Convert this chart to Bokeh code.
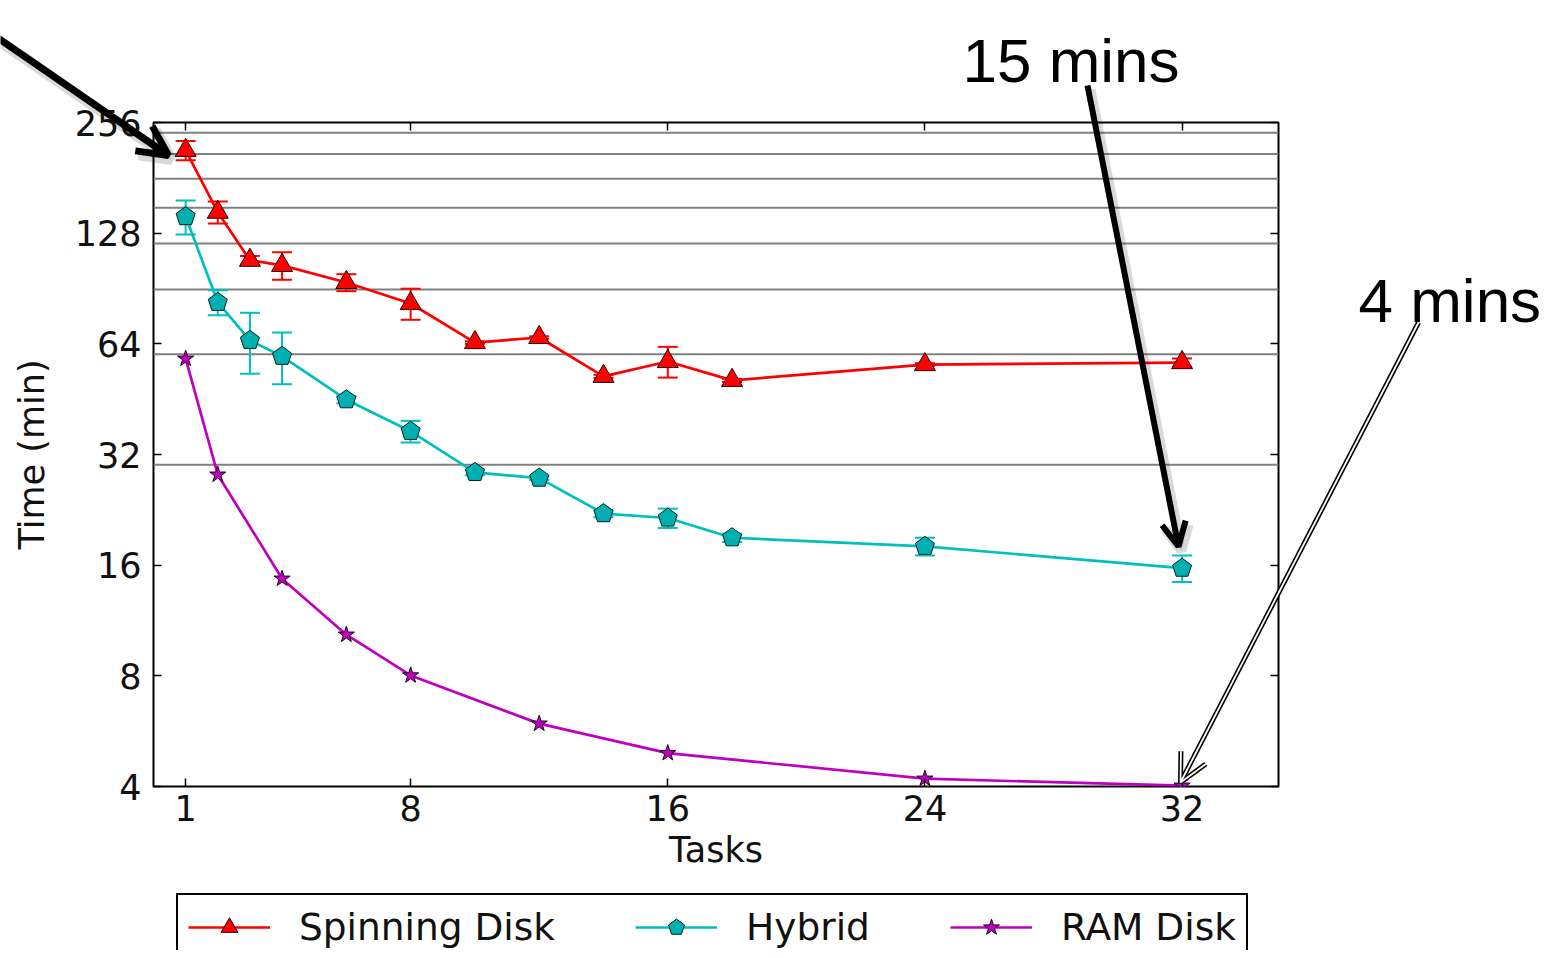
import math
from bokeh.plotting import figure
from bokeh.models import (Range1d, LinearAxis, LogAxis, FixedTicker, PrintfTickFormatter,
                          ColumnDataSource, Whisker, TeeHead, Span, Arrow, OpenHead, Label,
                          Legend, LegendItem)
from bokeh.embed import file_html
from bokeh.resources import INLINE

# ---------------- data ----------------
tasks_spin = [1, 2, 3, 4, 6, 8, 10, 12, 14, 16, 18, 24, 32]
time_spin = [215, 146, 108, 104.6, 94, 82.4, 64.5, 66.6, 52.2, 57.3, 50.9, 56.2, 56.9]
err_spin = [13, 10, 3, 9, 5, 8, 0.5, 0.5, 0.5, 5.5, 0.5, 0.5, 1.5]

tasks_hyb = [1, 2, 3, 4, 6, 8, 10, 12, 14, 16, 18, 24, 32]
time_hyb = [142, 83, 65.4, 59.2, 45.1, 37.0, 28.6, 27.6, 22.1, 21.5, 19.0, 18.0, 15.7]
err_hyb = [15, 6.5, 12.3, 9.5, 1, 2.5, 0.5, 0.3, 0.5, 1.3, 0.5, 1.0, 1.3]

tasks_ram = [1, 2, 4, 6, 8, 12, 16, 24, 32]
time_ram = [58.3, 28.2, 14.7, 10.35, 8.02, 5.93, 4.93, 4.20, 4.02]

series_names = ["Spinning Disk", "Hybrid", "RAM Disk"]
x_ticks = [1, 8, 16, 24, 32]
y_ticks = [4, 8, 16, 32, 64, 128, 256]
half_hours = [30, 60, 90, 120, 150, 180, 210, 240]

# ---------------- layout ----------------
W, H = 1554, 950
FL, FT = 153, 122
FR, FB = W - 1278, H - 786
X0, X1 = 0, 35
Y0, Y1 = 4, 256

TICK_FONT = "DejaVu Sans"
RED, CYAN, MAG = "#ff0000", "#00bfbf", "#bf00bf"
TEAL_FILL = "#00b0b0"

p = figure(width=W, height=H, output_backend="svg", toolbar_location=None,
           x_range=Range1d(X0, X1), y_range=Range1d(Y0, Y1), y_axis_type="log",
           min_border_left=FL, min_border_right=FR, min_border_top=FT, min_border_bottom=FB)
p.background_fill_color = "white"
p.border_fill_color = "white"
p.outline_line_color = "black"
p.outline_line_width = 2
p.xgrid.visible = False
p.ygrid.visible = False

for ax in (p.xaxis[0], p.yaxis[0]):
    ax.axis_line_color = None
    ax.major_tick_in = 8
    ax.major_tick_out = 0
    ax.major_tick_line_width = 1.5
    ax.minor_tick_line_color = None
    ax.major_label_text_font = TICK_FONT
    ax.major_label_text_font_size = "35px"
    ax.major_label_text_color = "#111111"
    ax.axis_label_text_font = TICK_FONT
    ax.axis_label_text_font_size = "35px"
    ax.axis_label_text_font_style = "normal"
    ax.axis_label_text_color = "#111111"

p.xaxis[0].ticker = FixedTicker(ticks=x_ticks)
p.xaxis[0].axis_label = "Tasks"
p.xaxis[0].major_label_standoff = 8
p.xaxis[0].axis_label_standoff = 6
p.yaxis[0].ticker = FixedTicker(ticks=y_ticks)
p.yaxis[0].formatter = PrintfTickFormatter(format="%d")
p.yaxis[0].axis_label = "Time (min)"
p.yaxis[0].major_label_standoff = 12
p.yaxis[0].axis_label_standoff = 20

top_ax = LinearAxis(ticker=FixedTicker(ticks=x_ticks), axis_line_color=None,
                    major_tick_in=8, major_tick_out=0, major_tick_line_width=1.5,
                    minor_tick_line_color=None,
                    major_label_overrides={t: "" for t in x_ticks})
p.add_layout(top_ax, "above")
right_ax = LogAxis(ticker=FixedTicker(ticks=y_ticks), axis_line_color=None,
                   major_tick_in=8, major_tick_out=0, major_tick_line_width=1.5,
                   minor_tick_line_color=None,
                   major_label_overrides={t: "" for t in y_ticks})
p.add_layout(right_ax, "right")

for v in half_hours:
    p.add_layout(Span(location=v, dimension="width", line_color="#808080",
                      line_width=2, level="underlay"))

src_s = ColumnDataSource(dict(x=tasks_spin, y=time_spin,
                              lo=[v - e for v, e in zip(time_spin, err_spin)],
                              hi=[v + e for v, e in zip(time_spin, err_spin)]))
src_h = ColumnDataSource(dict(x=tasks_hyb, y=time_hyb,
                              lo=[v - e for v, e in zip(time_hyb, err_hyb)],
                              hi=[v + e for v, e in zip(time_hyb, err_hyb)]))
src_r = ColumnDataSource(dict(x=tasks_ram, y=time_ram))

for src, col in ((src_s, RED), (src_h, CYAN)):
    p.add_layout(Whisker(source=src, base="x", upper="hi", lower="lo", dimension="height",
                         line_color=col, line_width=2,
                         upper_head=TeeHead(size=20, line_color=col, line_width=2),
                         lower_head=TeeHead(size=20, line_color=col, line_width=2)))

STYLE_S = dict(line=dict(line_color=RED, line_width=2.7),
               mark=dict(marker="triangle", size=21, fill_color=RED,
                         line_color="#330000", line_width=1))
STYLE_H = dict(line=dict(line_color=CYAN, line_width=2.7),
               mark=dict(radius=10, radius_units="screen", n=5, angle=0,
                         fill_color=TEAL_FILL, line_color="#002222", line_width=1))
STYLE_R = dict(line=dict(line_color=MAG, line_width=2.7),
               mark=dict(marker="star", size=17, fill_color=MAG,
                         line_color="#220022", line_width=1))

p.line("x", "y", source=src_s, **STYLE_S["line"])
p.scatter("x", "y", source=src_s, **STYLE_S["mark"])
p.line("x", "y", source=src_h, **STYLE_H["line"])
p.ngon(x="x", y="y", source=src_h, **STYLE_H["mark"])
p.line("x", "y", source=src_r, **STYLE_R["line"])
p.scatter("x", "y", source=src_r, **STYLE_R["mark"])

# ---------------- overlay: call-outs and legend (pixel coordinates, y down) ----------------
q = figure(width=W, height=H, output_backend="svg", toolbar_location=None,
           x_range=Range1d(0, W), y_range=Range1d(H, 0),
           min_border=0, x_axis_location=None, y_axis_location=None,
           background_fill_color=None, border_fill_color=None, outline_line_color=None)
for g in q.grid:
    g.visible = False
q.styles = {"position": "absolute", "top": "0px", "left": "0px", "pointer-events": "none"}

# legend keys: same series and styles, not drawn in the overlay itself
k_s = [q.line("x", "y", source=src_s, visible=False, **STYLE_S["line"]),
       q.scatter("x", "y", source=src_s, visible=False, **STYLE_S["mark"])]
k_h = [q.line("x", "y", source=src_h, visible=False, **STYLE_H["line"]),
       q.ngon(x="x", y="y", source=src_h, visible=False, **STYLE_H["mark"])]
k_r = [q.line("x", "y", source=src_r, visible=False, **STYLE_R["line"]),
       q.scatter("x", "y", source=src_r, visible=False, **STYLE_R["mark"])]

legend = Legend(items=[LegendItem(label=series_names[0], renderers=k_s),
                       LegendItem(label=series_names[1], renderers=k_h),
                       LegendItem(label=series_names[2], renderers=k_r)],
                orientation="horizontal", location=(176, -11), margin=0,
                label_text_font=TICK_FONT, label_text_font_size="37.5px",
                label_text_color="#111111",
                glyph_width=82, glyph_height=42, label_height=42,
                label_standoff=29, spacing=80, padding=10,
                border_line_color="black", border_line_width=2, border_line_alpha=1,
                background_fill_color="white", background_fill_alpha=1,
                inactive_fill_alpha=0)
q.add_layout(legend)


def callout(x0, y0, x1, y1, width, head, shadow=True):
    if shadow:
        q.add_layout(Arrow(x_start=x0 + 3, y_start=y0 + 4, x_end=x1 + 3, y_end=y1 + 4,
                           line_color="black", line_alpha=0.15, line_width=width + 4,
                           end=OpenHead(size=head, line_color="black", line_alpha=0.15,
                                        line_width=width + 4)))
    q.add_layout(Arrow(x_start=x0, y_start=y0, x_end=x1, y_end=y1,
                       line_color="black", line_width=width,
                       end=OpenHead(size=head, line_color="black", line_width=width)))


callout(-2, 38, 168, 155, 7, 30)
callout(1087, 85, 1178, 546, 6, 24)
q.add_layout(Arrow(x_start=1418, y_start=322, x_end=1180, y_end=782,
                   line_color="black", line_width=5,
                   end=OpenHead(size=28, line_color="black", line_width=5)))
q.add_layout(Arrow(x_start=1418, y_start=322, x_end=1180, y_end=782,
                   line_color="white", line_width=1.8,
                   end=OpenHead(size=28, line_color="white", line_width=1.8)))

q.add_layout(Label(x=962, y=60, text="15 mins", text_font="Liberation Sans",
                   text_font_size="62px", text_baseline="alphabetic", text_align="left",
                   text_color="black"))
q.add_layout(Label(x=1358, y=300, text="4 mins", text_font="Liberation Sans",
                   text_font_size="62px", text_baseline="alphabetic", text_align="left",
                   text_color="black"))

open("out.html", "w").write(file_html([p, q], INLINE))
